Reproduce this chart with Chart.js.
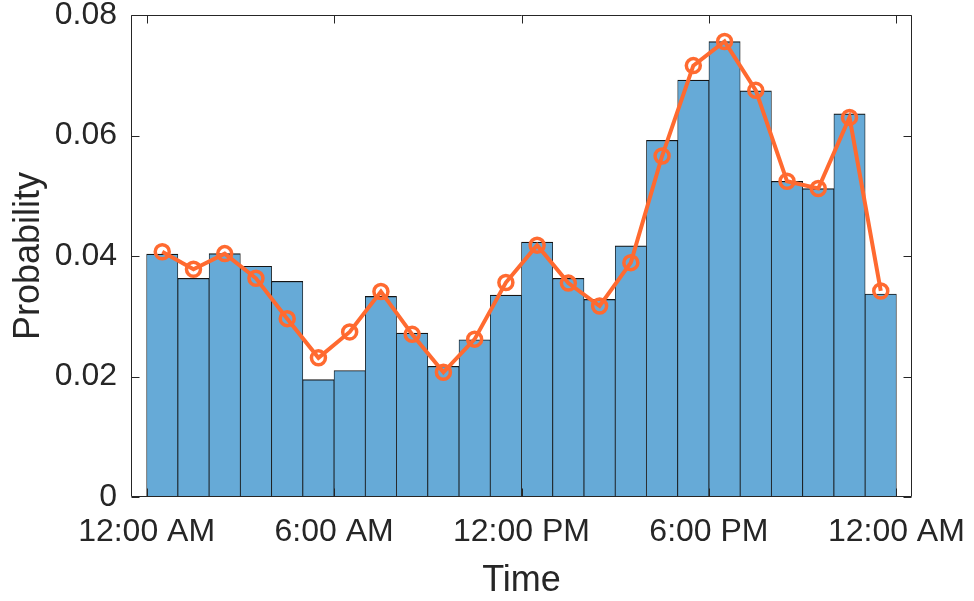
<!DOCTYPE html>
<html>
<head>
<meta charset="utf-8">
<script src="https://cdn.jsdelivr.net/npm/chart.js@4.4.1/dist/chart.umd.min.js"></script>
<style>
  html, body { margin: 0; padding: 0; background: #ffffff; }
  #wrap { width: 974px; height: 601px; }
</style>
</head>
<body>
<div id="wrap"><canvas id="c" width="974" height="601"></canvas></div>
<script>
// Hourly bins (bin centres in hours after midnight)
const binCenters = [0.5, 1.5, 2.5, 3.5, 4.5, 5.5, 6.5, 7.5, 8.5, 9.5, 10.5, 11.5,
                    12.5, 13.5, 14.5, 15.5, 16.5, 17.5, 18.5, 19.5, 20.5, 21.5, 22.5, 23.5];

// Histogram probability per hour
const binProbability = [0.0403, 0.0363, 0.0404, 0.0383, 0.0358, 0.0195, 0.0210, 0.0333,
                        0.0272, 0.0217, 0.0261, 0.0335, 0.0423, 0.0363, 0.0328, 0.0417,
                        0.0592, 0.0692, 0.0756, 0.0674, 0.0524, 0.0512, 0.0636, 0.0337];

// Fitted probability curve per hour
const fitProbability = [0.0407, 0.0378, 0.0404, 0.0363, 0.0296, 0.0231, 0.0274, 0.0341,
                        0.0270, 0.0207, 0.0262, 0.0356, 0.0418, 0.0355, 0.0317, 0.0389,
                        0.0566, 0.0716, 0.0756, 0.0675, 0.0524, 0.0512, 0.0630, 0.0342];

// Axis ticks
const xTickHours = [0, 6, 12, 18, 24];
const xTickLabels = ['12:00 AM', '6:00 AM', '12:00 PM', '6:00 PM', '12:00 AM'];
const yTickValues = [0, 0.02, 0.04, 0.06, 0.08];
const yTickLabels = ['0', '0.02', '0.04', '0.06', '0.08'];

const TEXT = '#262626';
const ORANGE = '#ff6a30';
const BAR_FILL = '#66aad7';
const FONT = "'Liberation Sans', Arial, Helvetica, sans-serif";

Chart.defaults.font.family = FONT;
Chart.defaults.color = TEXT;

// Closed axes box with inward ticks on all four sides
const axesFrame = {
  id: 'axesFrame',
  afterDatasetsDraw(chart) {
    const { ctx, chartArea, scales } = chart;
    const L = Math.round(chartArea.left) + 0.5;
    const R = Math.round(chartArea.right) - 0.5;
    const T = Math.round(chartArea.top) + 0.5;
    const B = Math.round(chartArea.bottom) - 0.5;
    const len = 8;
    ctx.save();
    ctx.strokeStyle = TEXT;
    ctx.lineWidth = 1;
    ctx.beginPath();
    ctx.rect(L, T, R - L, B - T);
    xTickHours.forEach(h => {
      const px = Math.round(scales.x.getPixelForValue(h)) + 0.5;
      ctx.moveTo(px, B); ctx.lineTo(px, B - len);
      ctx.moveTo(px, T); ctx.lineTo(px, T + len);
    });
    yTickValues.forEach(v => {
      const py = Math.round(scales.y.getPixelForValue(v)) + 0.5;
      ctx.moveTo(L, py); ctx.lineTo(L + len, py);
      ctx.moveTo(R, py); ctx.lineTo(R - len, py);
    });
    ctx.stroke();
    ctx.restore();
  }
};

new Chart(document.getElementById('c'), {
  type: 'bar',
  data: {
    datasets: [
      {
        type: 'line',
        data: binCenters.map((x, i) => ({ x, y: fitProbability[i] })),
        borderColor: ORANGE,
        borderWidth: 4,
        tension: 0,
        pointRadius: 7,
        pointBorderWidth: 3.5,
        pointBorderColor: ORANGE,
        pointBackgroundColor: 'rgba(0,0,0,0)',
        order: 0
      },
      {
        type: 'bar',
        data: binCenters.map((x, i) => ({ x, y: binProbability[i] })),
        backgroundColor: BAR_FILL,
        borderColor: '#141414',
        borderWidth: { top: 1.2, left: 0.8, right: 0.8, bottom: 0 },
        borderSkipped: 'start',
        barPercentage: 1,
        categoryPercentage: 1,
        order: 1
      }
    ]
  },
  options: {
    responsive: false,
    animation: false,
    events: [],
    layout: { padding: { top: 15, right: 62, bottom: 0, left: 0 } },
    plugins: { legend: { display: false }, tooltip: { enabled: false } },
    scales: {
      x: {
        type: 'linear',
        min: -0.5,
        max: 24.5,
        offset: false,
        grid: { display: false, drawTicks: false },
        border: { display: false },
        afterBuildTicks: s => { s.ticks = xTickHours.map(v => ({ value: v })); },
        ticks: {
          autoSkip: false,
          maxRotation: 0,
          minRotation: 0,
          padding: 19,
          color: TEXT,
          font: { size: 32, lineHeight: 1 },
          callback: (v, i) => xTickLabels[i]
        },
        title: {
          display: true,
          text: 'Time',
          color: TEXT,
          font: { size: 36, lineHeight: 1 },
          padding: { top: 0, bottom: 1.5 }
        },
        afterFit: s => { s.height = 104; s.paddingLeft = 0; s.paddingRight = 0; }
      },
      y: {
        min: 0,
        max: 0.08,
        grid: { display: false, drawTicks: false },
        border: { display: false },
        afterBuildTicks: s => { s.ticks = yTickValues.map(v => ({ value: v })); },
        ticks: {
          padding: 14,
          color: TEXT,
          font: { size: 32, lineHeight: 1 },
          callback: (v, i) => yTickLabels[i]
        },
        title: {
          display: true,
          text: 'Probability',
          color: TEXT,
          font: { size: 36, lineHeight: 1 },
          padding: { top: 11, bottom: 0 }
        },
        afterFit: s => { s.width = 131; s.paddingTop = 0; s.paddingBottom = 0; }
      }
    }
  },
  plugins: [axesFrame]
});
</script>
</body>
</html>
